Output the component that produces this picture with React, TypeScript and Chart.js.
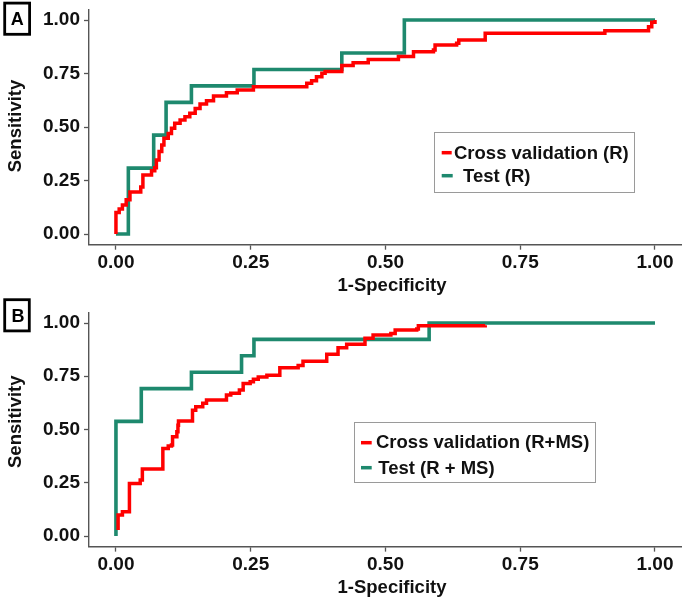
import React, { useEffect, useRef } from 'react';
import { Chart, registerables } from 'chart.js';
Chart.register(...registerables);

// ---------- data ----------
const X_TICKS = [0, 0.25, 0.5, 0.75, 1];
const Y_TICKS = [0, 0.25, 0.5, 0.75, 1];

// Panel A: cross validation (R)
const cvA_fpr = [0, 0, 0.006, 0.012, 0.019, 0.026, 0.046, 0.05, 0.066, 0.072, 0.075, 0.08, 0.085, 0.089, 0.097, 0.103, 0.109, 0.119, 0.128, 0.137, 0.147, 0.156, 0.168, 0.181, 0.205, 0.225, 0.255, 0.354, 0.363, 0.372, 0.382, 0.388, 0.419, 0.44, 0.468, 0.524, 0.552, 0.589, 0.592, 0.632, 0.636, 0.685, 0.907, 0.988, 0.994, 1];
const cvA_tpr = [0, 0.10, 0.117, 0.135, 0.16, 0.196, 0.22, 0.276, 0.296, 0.31, 0.346, 0.385, 0.416, 0.447, 0.47, 0.494, 0.517, 0.533, 0.548, 0.564, 0.587, 0.607, 0.623, 0.645, 0.66, 0.673, 0.688, 0.704, 0.716, 0.735, 0.751, 0.759, 0.787, 0.80, 0.816, 0.829, 0.852, 0.86, 0.883, 0.891, 0.907, 0.938, 0.95, 0.969, 0.99, 1];
// Panel A: test (R)
const testA_fpr = [0, 0.023, 0.07, 0.093, 0.14, 0.256, 0.419, 0.535, 1];
const testA_tpr = [0, 0.308, 0.462, 0.615, 0.692, 0.769, 0.846, 1, 1];

// Panel B: cross validation (R+MS)
const cvB_fpr = [0.004, 0.004, 0.012, 0.025, 0.045, 0.049, 0.087, 0.097, 0.103, 0.105, 0.113, 0.115, 0.116, 0.142, 0.148, 0.161, 0.168, 0.205, 0.213, 0.229, 0.236, 0.249, 0.255, 0.264, 0.28, 0.304, 0.338, 0.347, 0.391, 0.412, 0.428, 0.462, 0.477, 0.51, 0.518, 0.558, 0.561, 0.685];
const cvB_tpr = [0.028, 0.099, 0.114, 0.247, 0.263, 0.315, 0.411, 0.422, 0.427, 0.466, 0.49, 0.52, 0.54, 0.59, 0.607, 0.623, 0.638, 0.662, 0.67, 0.685, 0.716, 0.724, 0.736, 0.747, 0.755, 0.79, 0.80, 0.82, 0.853, 0.884, 0.90, 0.928, 0.944, 0.951, 0.967, 0.972, 0.987, 0.99];
// Panel B: test (R + MS)
const testB_fpr = [0, 0, 0.047, 0.14, 0.233, 0.256, 0.581, 1];
const testB_tpr = [0, 0.538, 0.692, 0.769, 0.846, 0.923, 1, 1];

const LABELS_A = ['Cross validation (R)', 'Test (R)'];
const LABELS_B = ['Cross validation (R+MS)', 'Test (R + MS)'];

// ---------- style ----------
const RED = '#FF0000';
const GREEN = '#1E896E';
const AXIS = '#555555';
const FONT = '"Liberation Sans", Arial, Helvetica, sans-serif';
const FS = 18.5;
const TICK_FS = 19;

const pts = (xs: number[], ys: number[]) => xs.map((x, i) => ({ x, y: ys[i] }));

type Panel = {
  height: number;
  padTop: number;
  xScaleH: number;
  letter: string;
  letterBox: [number, number, number, number];
  letterPos: [number, number];
  yTitle: [number, number];
  xTitle: [number, number];
  legendBox: [number, number, number, number];
  legend: { color: string; text: string; mx: [number, number]; my: number; tx: number; ty: number }[];
  cv: { x: number; y: number }[];
  test: { x: number; y: number }[];
};

const panelA: Panel = {
  height: 296,
  padTop: 9.3,
  xScaleH: 51.3,
  letter: 'A',
  letterBox: [4.7, 3.1, 24.9, 31.2],
  letterPos: [17.2, 25.4],
  yTitle: [20.6, 126],
  xTitle: [392, 291],
  legendBox: [434.5, 132.5, 200, 60],
  legend: [
    { color: RED, text: LABELS_A[0], mx: [441.7, 451.7], my: 152.7, tx: 454, ty: 158.5 },
    { color: GREEN, text: LABELS_A[1], mx: [441.7, 452.7], my: 175.7, tx: 463, ty: 182 },
  ],
  cv: pts(cvA_fpr, cvA_tpr),
  test: pts(testA_fpr, testA_tpr),
};

const panelB: Panel = {
  height: 304,
  padTop: 16.35,
  xScaleH: 53.35,
  letter: 'B',
  letterBox: [4.7, 3.7, 24.6, 31.2],
  letterPos: [18, 25.9],
  yTitle: [20.6, 125.7],
  xTitle: [392, 297],
  legendBox: [354.5, 126.5, 241, 60],
  legend: [
    { color: RED, text: LABELS_B[0], mx: [361, 371.7], my: 146.7, tx: 376, ty: 152 },
    { color: GREEN, text: LABELS_B[1], mx: [361, 371.7], my: 171.7, tx: 378.3, ty: 178 },
  ],
  cv: pts(cvB_fpr, cvB_tpr),
  test: pts(testB_fpr, testB_tpr),
};

function makeOverlay(p: Panel) {
  return {
    id: 'overlay' + p.letter,
    afterDraw(chart: any) {
      const ctx: CanvasRenderingContext2D = chart.ctx;
      ctx.save();
      // panel letter box
      ctx.strokeStyle = '#000';
      ctx.lineWidth = 2.8;
      ctx.strokeRect(...p.letterBox);
      ctx.fillStyle = '#000';
      ctx.font = `bold 18px ${FONT}`;
      ctx.textAlign = 'center';
      ctx.textBaseline = 'alphabetic';
      ctx.fillText(p.letter, p.letterPos[0], p.letterPos[1]);
      // axis titles
      ctx.fillStyle = '#111';
      ctx.font = `bold ${FS}px ${FONT}`;
      ctx.textAlign = 'center';
      ctx.fillText('1-Specificity', p.xTitle[0], p.xTitle[1]);
      ctx.save();
      ctx.translate(p.yTitle[0], p.yTitle[1]);
      ctx.rotate(-Math.PI / 2);
      ctx.fillText('Sensitivity', 0, 0);
      ctx.restore();
      // legend
      ctx.fillStyle = '#fff';
      ctx.fillRect(...p.legendBox);
      ctx.strokeStyle = '#9a9a9a';
      ctx.lineWidth = 1;
      ctx.strokeRect(...p.legendBox);
      ctx.textAlign = 'left';
      for (const it of p.legend) {
        ctx.strokeStyle = it.color;
        ctx.lineWidth = 3.5;
        ctx.beginPath();
        ctx.moveTo(it.mx[0], it.my);
        ctx.lineTo(it.mx[1], it.my);
        ctx.stroke();
        ctx.fillStyle = '#111';
        ctx.fillText(it.text, it.tx, it.ty);
      }
      ctx.restore();
    },
  };
}

function buildConfig(p: Panel): any {
  const tickFont = { family: FONT, size: TICK_FS, weight: 'bold' as const };
  return {
    type: 'line',
    data: {
      datasets: [
        {
          label: p.legend[0].text,
          data: p.cv,
          borderColor: RED,
          borderWidth: 3.5,
          pointRadius: 0,
          stepped: true,
          fill: false,
        },
        {
          label: p.legend[1].text,
          data: p.test,
          borderColor: GREEN,
          borderWidth: 3.6,
          pointRadius: 0,
          stepped: true,
          fill: false,
        },
      ],
    },
    options: {
      animation: false,
      responsive: false,
      devicePixelRatio: 1,
      layout: { padding: { left: 0, right: 3.05, top: p.padTop, bottom: 0 } },
      plugins: { legend: { display: false }, tooltip: { enabled: false }, title: { display: false } },
      scales: {
        x: {
          type: 'linear',
          min: -0.05,
          max: 1.05,
          afterBuildTicks: (s: any) => {
            s.ticks = X_TICKS.map((v) => ({ value: v }));
          },
          afterFit: (s: any) => {
            s.height = p.xScaleH;
            s.paddingLeft = 0;
            s.paddingRight = 0;
          },
          ticks: {
            font: tickFont,
            color: '#111',
            padding: 2,
            maxRotation: 0,
            autoSkip: false,
            callback: (v: any) => Number(v).toFixed(2),
          },
          grid: { display: true, drawOnChartArea: false, drawTicks: true, tickLength: 5, tickColor: AXIS, tickWidth: 1.3 },
          border: { display: true, color: AXIS, width: 1.4 },
        },
        y: {
          type: 'linear',
          min: -0.05,
          max: 1.05,
          afterBuildTicks: (s: any) => {
            s.ticks = Y_TICKS.map((v) => ({ value: v }));
          },
          afterFit: (s: any) => {
            s.width = 89;
            s.paddingTop = 0;
            s.paddingBottom = 0;
          },
          ticks: {
            font: tickFont,
            color: '#111',
            padding: 4,
            autoSkip: false,
            callback: (v: any) => Number(v).toFixed(2),
          },
          grid: { display: true, drawOnChartArea: false, drawTicks: true, tickLength: 5, tickColor: AXIS, tickWidth: 1.3 },
          border: { display: true, color: AXIS, width: 1.4 },
        },
      },
    },
    plugins: [makeOverlay(p)],
  };
}

function RocPanel({ panel, top }: { panel: Panel; top: number }) {
  const ref = useRef<HTMLCanvasElement | null>(null);
  useEffect(() => {
    if (!ref.current) return;
    const chart = new Chart(ref.current, buildConfig(panel));
    return () => chart.destroy();
  }, [panel]);
  return (
    <canvas
      ref={ref}
      width={685}
      height={panel.height}
      style={{ position: 'absolute', left: 0, top, width: 685, height: panel.height, display: 'block' }}
    />
  );
}

export default function App() {
  return (
    <div style={{ position: 'absolute', left: 0, top: 0, width: 685, height: 600, background: '#fff' }}>
      <RocPanel panel={panelA} top={0} />
      <RocPanel panel={panelB} top={296} />
    </div>
  );
}
